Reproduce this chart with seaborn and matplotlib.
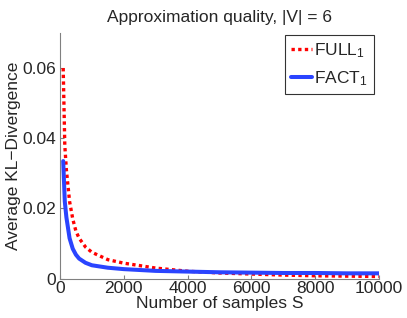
import matplotlib
matplotlib.use("Agg")
import matplotlib.pyplot as plt
import seaborn as sns
import pandas as pd

S = [100, 150, 200, 300, 400, 500, 600, 800, 1000, 1500, 2000, 3000, 4000,
     5000, 6000, 7000, 8000, 9000, 10000]
full_1 = [0.060, 0.038, 0.031, 0.022, 0.017, 0.0135, 0.0115, 0.0090, 0.0075,
          0.0054, 0.0044, 0.0030, 0.0021, 0.0016, 0.0013, 0.0010, 0.0008,
          0.0007, 0.0006]
fact_1 = [0.0335, 0.022, 0.0175, 0.0115, 0.0085, 0.0068, 0.0057, 0.0045,
          0.0038, 0.0031, 0.0027, 0.0022, 0.0020, 0.0018, 0.0017, 0.0016,
          0.0016, 0.0015, 0.0015]
series_names = ["FULL$_1$", "FACT$_1$"]

df = pd.DataFrame({
    "S": S + S,
    "KL": full_1 + fact_1,
    "method": [series_names[0]] * len(S) + [series_names[1]] * len(S),
})

sns.set_style("ticks")
plt.rcParams["font.family"] = ["Liberation Sans", "DejaVu Sans"]
plt.rcParams["mathtext.fontset"] = "custom"
plt.rcParams["mathtext.rm"] = "Liberation Sans"
plt.rcParams["mathtext.it"] = "Liberation Sans"

FS = 12.5
fig = plt.figure(figsize=(4.07, 3.18), dpi=100)
ax = fig.add_axes([60/407, 1-278.6/318, (379-60)/407, (278.6-33)/318])

palette = {series_names[0]: "#ff0000", series_names[1]: "#2a44ff"}
sns.lineplot(data=df, x="S", y="KL", hue="method", palette=palette, ax=ax,
             linewidth=2.8, legend=False)
lines = ax.get_lines()
red_style = (0, (1.0, 1.0))
lines[0].set_linestyle(red_style)
lines[0].set_linewidth(2.4)
lines[0].set_dash_capstyle("butt")
lines[1].set_linewidth(2.9)

ax.set_xlim(0, 10000)
ax.set_ylim(0, 0.07)
ax.set_xticks([0, 2000, 4000, 6000, 8000, 10000])
ax.set_yticks([0, 0.02, 0.04, 0.06])
ax.set_yticklabels(["0", "0.02", "0.04", "0.06"])
ax.tick_params(direction="in", length=3, labelsize=FS, color="#808080")
ax.tick_params(axis="x", pad=2)
ax.tick_params(axis="y", pad=3)
for s in ["top", "right"]:
    ax.spines[s].set_visible(False)
for s in ["left", "bottom"]:
    ax.spines[s].set_color("#808080")
    ax.spines[s].set_linewidth(0.8)

ax.set_xlabel("Number of samples S", fontsize=FS, labelpad=0)
ax.set_ylabel("Average KL−Divergence", fontsize=FS, labelpad=1)
ax.set_title("Approximation quality, |V| = 6", fontsize=FS, pad=8)

leg = ax.legend(handles=[lines[0], lines[1]], labels=series_names,
                loc="upper right", bbox_to_anchor=(0.995, 1.005), fontsize=FS,
                frameon=True, fancybox=False, edgecolor="black",
                handlelength=1.25, handletextpad=0.1, borderpad=0.35,
                labelspacing=0.55, borderaxespad=0.2)
leg.get_frame().set_linewidth(0.8)

fig.savefig("out.png", dpi=100)
